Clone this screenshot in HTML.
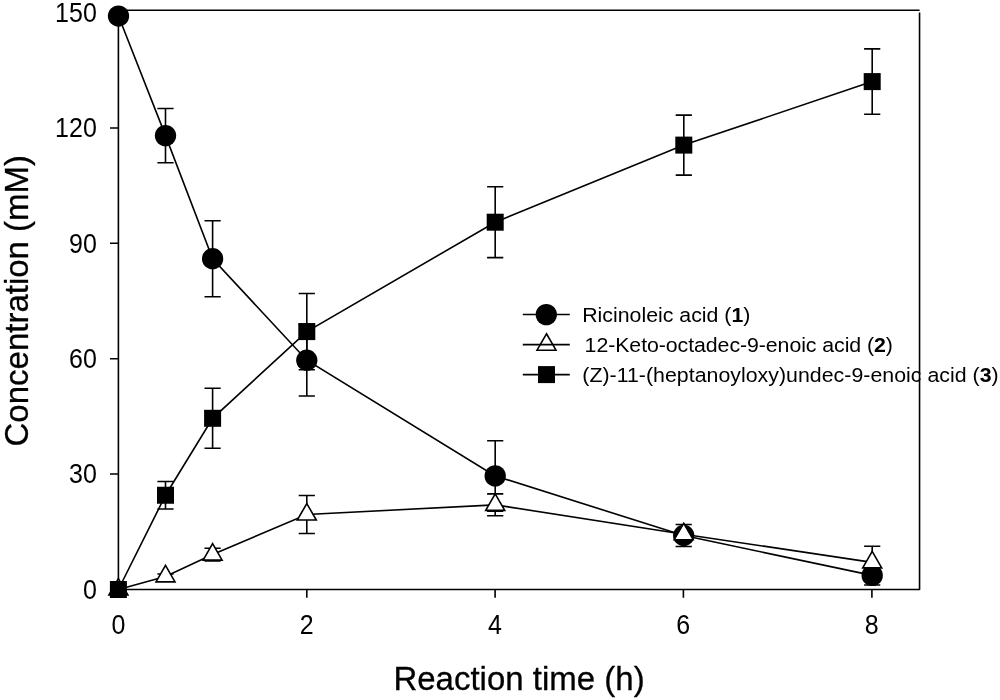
<!DOCTYPE html>
<html><head><meta charset="utf-8"><title>Concentration vs reaction time</title>
<style>
html,body{margin:0;padding:0;background:#fff;}
body{width:1000px;height:700px;overflow:hidden;}
svg{display:block;will-change:transform;opacity:0.999;}
text{font-family:"Liberation Sans",Arial,Helvetica,sans-serif;fill:#000;}
.tk{font-size:25px;}
.ax{font-size:33px;stroke:#000;stroke-width:0.3px;}
.lg{font-size:21.33px;}
</style></head><body>
<svg width="1000" height="700" viewBox="0 0 1000 700">
<rect width="1000" height="700" fill="#fff"/>
<g stroke="#000" stroke-width="1.6" fill="none">
<path d="M118.4 10.3H919.6M118.4 10.3V589.5"/>
<path stroke-linejoin="round" d="M919.55 12.5V589.5H117.6"/>
<path d="M110.0 12.70H118.4M110.0 128.00H118.4M110.0 243.30H118.4M110.0 358.70H118.4M110.0 474.00H118.4M110.0 589.50H118.4M118.50 589.5V597.8M306.80 589.5V597.8M495.10 589.5V597.8M683.40 589.5V597.8M871.90 589.5V597.8"/>
<polyline fill="none" points="118.50,16.05 165.50,135.60 212.60,258.70 306.80,360.20 495.20,475.90 683.70,535.50 872.20,575.40"/>
<path d="M165.50 108.45V162.75M157.40 108.45H173.60M157.40 162.75H173.60"/>
<path d="M212.60 220.70V296.70M204.50 220.70H220.70M204.50 296.70H220.70"/>
<path d="M306.80 324.40V396.00M298.70 324.40H314.90M298.70 396.00H314.90"/>
<path d="M495.20 440.70V511.10M487.10 440.70H503.30M487.10 511.10H503.30"/>
<path d="M683.70 524.50V546.50M675.60 524.50H691.80M675.60 546.50H691.80"/>
<path d="M872.20 565.80V585.00M864.10 565.80H880.30M864.10 585.00H880.30"/>
<circle cx="118.50" cy="16.05" r="10.65" fill="#000" stroke="none"/>
<circle cx="165.50" cy="135.60" r="10.65" fill="#000" stroke="none"/>
<circle cx="212.60" cy="258.70" r="10.65" fill="#000" stroke="none"/>
<circle cx="306.80" cy="360.20" r="10.65" fill="#000" stroke="none"/>
<circle cx="495.20" cy="475.90" r="10.65" fill="#000" stroke="none"/>
<circle cx="683.70" cy="535.50" r="10.65" fill="#000" stroke="none"/>
<circle cx="872.20" cy="575.40" r="10.65" fill="#000" stroke="none"/>
<polyline fill="none" points="118.40,589.50 165.50,576.40 212.60,554.60 306.80,514.50 495.20,504.85 683.70,534.20 872.20,562.40"/>
<path d="M165.50 574.00V578.80M157.40 574.00H173.60M157.40 578.80H173.60"/>
<path d="M212.60 548.20V561.00M204.50 548.20H220.70M204.50 561.00H220.70"/>
<path d="M306.80 495.50V533.50M298.70 495.50H314.90M298.70 533.50H314.90"/>
<path d="M495.20 493.90V515.80M487.10 493.90H503.30M487.10 515.80H503.30"/>
<path d="M872.20 546.20V578.60M864.10 546.20H880.30M864.10 578.60H880.30"/>
<path d="M118.40 578.53L127.90 594.98L108.90 594.98Z" fill="#fff" stroke-linejoin="miter"/>
<path d="M165.50 565.43L175.00 581.88L156.00 581.88Z" fill="#fff" stroke-linejoin="miter"/>
<path d="M212.60 543.63L222.10 560.08L203.10 560.08Z" fill="#fff" stroke-linejoin="miter"/>
<path d="M306.80 503.53L316.30 519.98L297.30 519.98Z" fill="#fff" stroke-linejoin="miter"/>
<path d="M495.20 493.88L504.70 510.33L485.70 510.33Z" fill="#fff" stroke-linejoin="miter"/>
<path d="M683.70 523.23L693.20 539.68L674.20 539.68Z" fill="#fff" stroke-linejoin="miter"/>
<path d="M872.20 551.43L881.70 567.88L862.70 567.88Z" fill="#fff" stroke-linejoin="miter"/>
<polyline fill="none" points="118.40,589.50 165.50,495.25 212.60,418.30 306.80,331.60 495.20,222.20 683.80,145.10 872.20,81.60"/>
<path d="M165.50 481.50V509.00M157.40 481.50H173.60M157.40 509.00H173.60"/>
<path d="M212.60 388.30V448.30M204.50 388.30H220.70M204.50 448.30H220.70"/>
<path d="M306.80 293.45V369.75M298.70 293.45H314.90M298.70 369.75H314.90"/>
<path d="M495.20 186.80V257.60M487.10 186.80H503.30M487.10 257.60H503.30"/>
<path d="M683.80 115.10V175.10M675.70 115.10H691.90M675.70 175.10H691.90"/>
<path d="M872.20 48.90V114.30M864.10 48.90H880.30M864.10 114.30H880.30"/>
<rect x="109.90" y="581.00" width="17" height="17" fill="#000" stroke="none"/>
<rect x="157.00" y="486.75" width="17" height="17" fill="#000" stroke="none"/>
<rect x="204.10" y="409.80" width="17" height="17" fill="#000" stroke="none"/>
<rect x="298.30" y="323.10" width="17" height="17" fill="#000" stroke="none"/>
<rect x="486.70" y="213.70" width="17" height="17" fill="#000" stroke="none"/>
<rect x="675.30" y="136.60" width="17" height="17" fill="#000" stroke="none"/>
<rect x="863.70" y="73.10" width="17" height="17" fill="#000" stroke="none"/>
<path d="M522.8 314.5H569.8M522.8 344.6H569.8M522.8 374.6H569.8"/>
<circle cx="546.30" cy="314.60" r="10.65" fill="#000" stroke="none"/>
<path d="M546.50 333.73L556.00 350.18L537.00 350.18Z" fill="none" stroke-linejoin="miter"/>
<rect x="538.00" y="366.10" width="17" height="17" fill="#000" stroke="none"/>
</g>
<text class="tk" transform="translate(96.80 21.90) scale(1 1.1000)" text-anchor="end">150</text>
<text class="tk" transform="translate(96.80 137.20) scale(1 1.1000)" text-anchor="end">120</text>
<text class="tk" transform="translate(96.80 252.50) scale(1 1.1000)" text-anchor="end">90</text>
<text class="tk" transform="translate(96.80 367.90) scale(1 1.1000)" text-anchor="end">60</text>
<text class="tk" transform="translate(96.80 483.20) scale(1 1.1000)" text-anchor="end">30</text>
<text class="tk" transform="translate(96.80 598.70) scale(1 1.1000)" text-anchor="end">0</text>
<text class="tk" transform="translate(118.40 634.00) scale(1 1.1000)" text-anchor="middle">0</text>
<text class="tk" transform="translate(306.70 634.00) scale(1 1.1000)" text-anchor="middle">2</text>
<text class="tk" transform="translate(495.00 634.00) scale(1 1.1000)" text-anchor="middle">4</text>
<text class="tk" transform="translate(683.30 634.00) scale(1 1.1000)" text-anchor="middle">6</text>
<text class="tk" transform="translate(871.80 634.00) scale(1 1.1000)" text-anchor="middle">8</text>
<text class="ax" transform="translate(519.00 689.80) scale(1 1.0200)" text-anchor="middle">Reaction time (h)</text>
<text class="ax" transform="translate(28.20 300.70) rotate(-90) scale(1 1.0200)" text-anchor="middle">Concentration (mM)</text>
<text class="lg" transform="translate(582.20 322.30) scale(1 0.9400)" text-anchor="start">Ricinoleic acid (<tspan font-weight="bold">1</tspan>)</text>
<text class="lg" transform="translate(584.60 352.30) scale(1 0.9400)" text-anchor="start" letter-spacing="-0.07">12-Keto-octadec-9-enoic acid (<tspan font-weight="bold">2</tspan>)</text>
<text class="lg" transform="translate(582.30 382.30) scale(1 0.9400)" text-anchor="start" letter-spacing="0.02">(Z)-11-(heptanoyloxy)undec-9-enoic acid (<tspan font-weight="bold">3</tspan>)</text>
</svg></body></html>
